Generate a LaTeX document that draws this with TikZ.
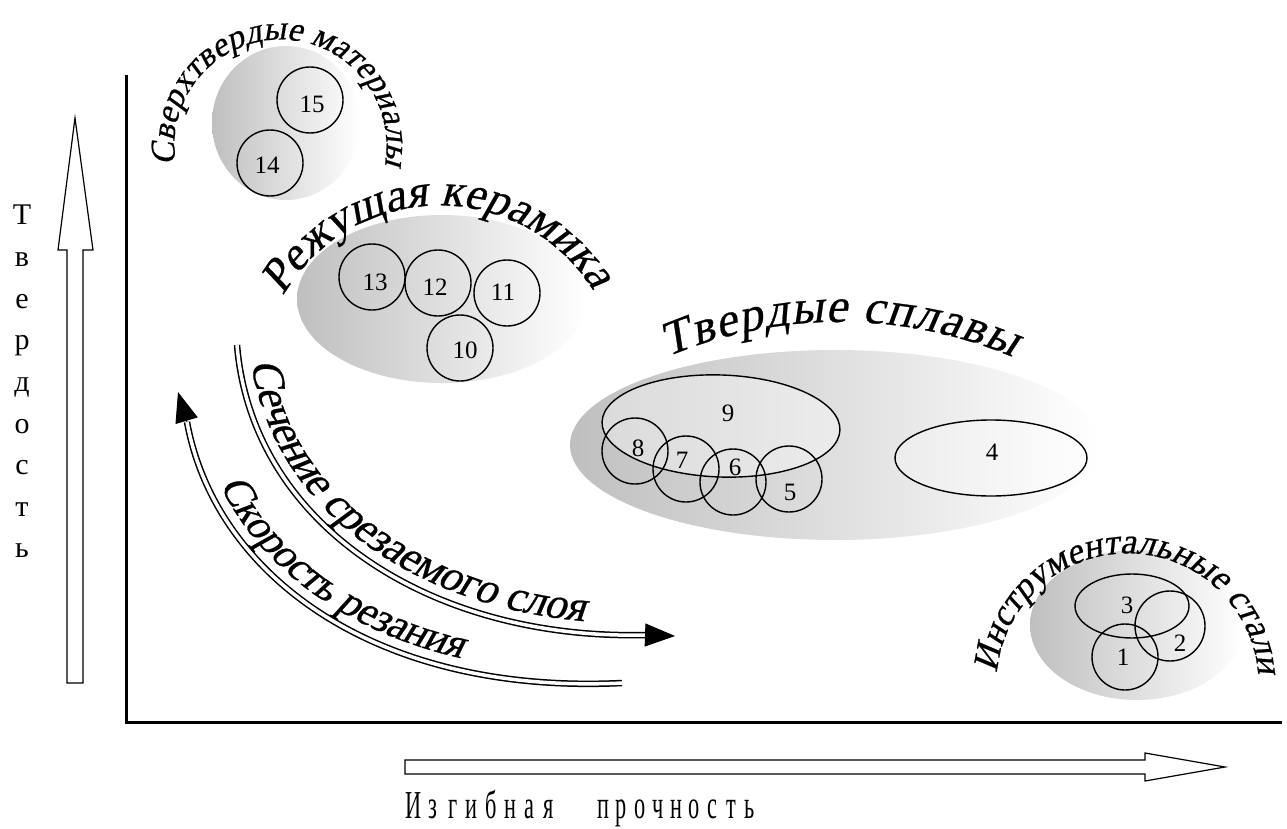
\documentclass[tikz,border=0pt]{standalone}
\usepackage{fontspec}
\setmainfont{Liberation Serif}[FakeSlant=0.22,FakeBold=0.6]
\newfontfamily\upfont{Liberation Serif}
\usetikzlibrary{arrows.meta,decorations.text,shapes.geometric}

\tikzset{
	zone/.style={left color=gray!50,right color=white},
	ring/.style={circle,draw,line width=1.4pt,minimum size=66pt,inner sep=0pt},
	oval/.style={ellipse,draw,line width=1.4pt,inner sep=0pt},
	num/.style={font=\upfont\fontsize{25}{25}\selectfont,inner sep=0pt},
	axlab/.style={font=\upfont\fontsize{30}{30}\selectfont,inner sep=0pt,anchor=base},
	bendtext/.style 2 args={decorate,decoration={text along path,text align=fit to path,
		text={|\fontsize{#1}{#1}\selectfont|#2}}},
	dbl/.style={line width=1.5pt,double,double distance=3.5pt},
	tip/.style={-{Triangle[length=30pt,width=23pt]},line width=1pt}
}

\begin{document}
\begin{tikzpicture}[x=1pt,y=1pt]
	\useasboundingbox (0,0) rectangle (1287,-829);

		% shaded groups
		\shade[zone] (286,-123) ellipse [x radius=74,y radius=77];
		\shade[zone] (442,-299) ellipse [x radius=145,y radius=84];
		\shade[zone] (835,-445) ellipse [x radius=265,y radius=95];
		\shade[zone] (1137,-625) ellipse [x radius=107,y radius=75];

		% materials
		\node[oval,minimum width=238pt,minimum height=102pt,rotate=-2,fill=white,fill opacity=.4] (c9) at (721,-426) {};
		\node[oval,minimum width=192pt,minimum height=76pt,fill=white,fill opacity=.25] (c4) at (991,-458) {};
		\node[oval,minimum width=114pt,minimum height=64pt] (c3) at (1132,-606) {};
		\foreach \n / \x / \y in {15/310/100,14/270/163,13/372/277,12/438/283,11/507/293,10/460/348,8/635/451,7/686/469,6/733/482,5/789/479,1/1125/657} { \node[ring] (c\n) at (\x,-\y) {};}
		\node[ring,minimum size=70pt] (c2) at (1170,-626) {};

		\foreach \n / \x / \y in {15/312/104,14/267/165,13/375/282,12/435/287,11/503/292,10/465/350,9/728/413,8/638/448,7/682/460,6/735/467,5/790/492,4/992/452,3/1127/605,2/1180/643,1/1123/657} { \node[num] (n\n) at (\x,-\y) {\n};}

		% group titles
		\path[bendtext={34}{Сверхтвердые материалы}] (176,-164) arc[start angle=190,end angle=-10,radius=106];
		\path[bendtext={46}{Режущая керамика}] (283,-296) arc[start angle=150,end angle=32,radius=181];
		\path[bendtext={48}{Твердые сплавы}] (667,-357) arc[start angle=113,end angle=67,radius=442];
		\path[bendtext={36}{Инструментальные стали}] (997,-673) arc[start angle=175,end angle=5,radius=131];

		% trend arrows
		\coordinate (s1) at (237,-345);
		\coordinate (e1) at (645,-635);
		\coordinate (t1) at (675,-636);
		\draw[dbl] (s1) .. controls (252,-525) and (430,-640) .. (e1);
		\draw[tip] (e1) -- (t1);
		\path[decorate,decoration={text along path,raise=12pt,text align={left,left indent=20pt},
			text={|\fontsize{44}{44}\selectfont|Сечение срезаемого слоя}}]
			(s1) .. controls (252,-525) and (430,-640) .. (e1);

		\coordinate (s2) at (187,-422);
		\coordinate (e2) at (622,-683);
		\coordinate (t2) at (178,-392);
		\draw[dbl] (s2) .. controls (215,-575) and (375,-695) .. (e2);
		\draw[tip] (s2) -- (t2);
		\path[decorate,decoration={text along path,raise=12pt,text align={left,left indent=72pt},
			text={|\fontsize{42}{42}\selectfont|Скорость резания}}]
			(s2) .. controls (215,-575) and (375,-695) .. (e2);

		% axes
		\coordinate (o) at (126,-722);
		\draw[line width=3pt] (126,-75) -- (o) -- (1282,-722);

		\draw[line width=1.2pt] (67,-683) -- (67,-250) -- (58,-250) -- (75,-118) -- (93,-250) -- (83,-250) -- (83,-683) -- cycle;
		\draw[line width=1.2pt] (405,-760) -- (1145,-760) -- (1145,-753) -- (1225,-767) -- (1145,-781) -- (1145,-774) -- (405,-774) -- cycle;

		\foreach \l [count=\i from 0] in {Т,в,е,р,д,о,с,т,ь} { \node[axlab] (h\i) at (22,{-225-41.6*\i}) {\l};}
		\foreach \l [count=\i from 0] in {И,з,г,и,б,н,а,я} { \node[axlab,font=\upfont\fontsize{36}{36}\selectfont] (b\i) at ({414+19.3*\i},-818) {\scalebox{0.62}[1.1]{\l}};}
		\foreach \l [count=\i from 0] in {п,р,о,ч,н,о,с,т,ь} { \node[axlab,font=\upfont\fontsize{36}{36}\selectfont] (p\i) at ({603+18.3*\i},-818) {\scalebox{0.62}[1.1]{\l}};}
\end{tikzpicture}
\end{document}
